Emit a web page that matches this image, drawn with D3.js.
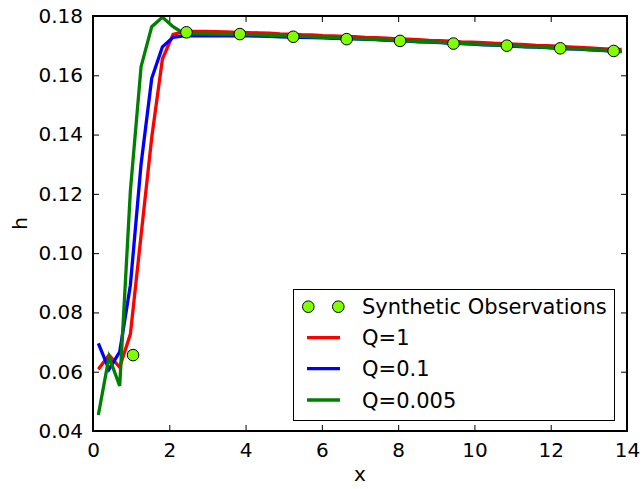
<!DOCTYPE html>
<html><head><meta charset="utf-8">
<script src="https://cdn.jsdelivr.net/npm/d3@7/dist/d3.min.js"></script>
<style>body{margin:0;background:#fff}svg{display:block}text{font-family:"DejaVu Sans",sans-serif}</style>
</head><body>
<svg id="c" width="643" height="489"></svg>
<script>
const xGrid = [0.14,0.42,0.70,0.98,1.26,1.54,1.82,2.10,2.38,2.66,2.94,3.22,3.50,3.78,4.06,4.34,4.62,4.90,5.18,5.46,5.74,6.02,6.30,6.58,6.86,7.14,7.42,7.70,7.98,8.26,8.54,8.82,9.10,9.38,9.66,9.94,10.22,10.50,10.78,11.06,11.34,11.62,11.90,12.18,12.46,12.74,13.02,13.30,13.58,13.86];
const hQ1 = [0.0608,0.0656,0.0615,0.0727,0.1060,0.1390,0.1655,0.1738,0.1747,0.1748,0.1748,0.1747,0.1746,0.1745,0.1744,0.1743,0.1742,0.1740,0.1739,0.1737,0.1736,0.1734,0.1733,0.1731,0.1730,0.1728,0.1727,0.1725,0.1723,0.1722,0.1720,0.1718,0.1717,0.1715,0.1713,0.1712,0.1710,0.1708,0.1707,0.1705,0.1703,0.1701,0.1700,0.1698,0.1696,0.1694,0.1692,0.1690,0.1688,0.1687];
const hQ01 = [0.0696,0.0608,0.0667,0.0892,0.1300,0.1590,0.1696,0.1728,0.1733,0.1734,0.1733,0.1733,0.1733,0.1733,0.1733,0.1732,0.1731,0.1730,0.1729,0.1728,0.1727,0.1726,0.1725,0.1724,0.1723,0.1721,0.1720,0.1718,0.1717,0.1715,0.1713,0.1712,0.1710,0.1708,0.1707,0.1705,0.1703,0.1702,0.1700,0.1698,0.1696,0.1695,0.1693,0.1691,0.1689,0.1688,0.1686,0.1684,0.1682,0.1680];
const hQ0005 = [0.0454,0.0650,0.0552,0.1210,0.1629,0.1764,0.1796,0.1764,0.1741,0.1740,0.1740,0.1739,0.1739,0.1738,0.1737,0.1736,0.1735,0.1734,0.1732,0.1731,0.1730,0.1728,0.1727,0.1725,0.1724,0.1722,0.1721,0.1719,0.1718,0.1716,0.1714,0.1713,0.1711,0.1709,0.1708,0.1706,0.1704,0.1703,0.1701,0.1699,0.1697,0.1696,0.1694,0.1692,0.1690,0.1689,0.1687,0.1685,0.1683,0.1680];
const obsX = [1.05,2.45,3.85,5.25,6.65,8.05,9.45,10.85,12.25,13.65];
const obsH = [0.0656,0.1745,0.1739,0.1730,0.1722,0.1716,0.1707,0.1700,0.1691,0.1682];
const xTicks = [0,2,4,6,8,10,12,14];
const yTicks = [0.04,0.06,0.08,0.10,0.12,0.14,0.16,0.18];
const seriesNames = ["Q=1","Q=0.1","Q=0.005"];
const seriesColors = ["#ff0000","#0000ff","#008000"];
const obsName = "Synthetic Observations";

const svg = d3.select("#c");
const L=93,R=627,T=16,B=431;
const x = d3.scaleLinear().domain([0,14]).range([L,R]);
const y = d3.scaleLinear().domain([0.04,0.18]).range([B,T]);
const fs = 20, lfs = 21;

// ticks (inward, all sides)
const xa = d3.axisBottom(x).tickValues(xTicks).tickFormat(d3.format("d")).tickSize(-6).tickPadding(10);
const ya = d3.axisLeft(y).tickValues(yTicks).tickFormat(d3.format(".2f")).tickSize(-6).tickPadding(10);
const gx = svg.append("g").attr("transform",`translate(0,${B})`).call(xa);
const gy = svg.append("g").attr("transform",`translate(${L},0)`).call(ya);
const gxt = svg.append("g").attr("transform",`translate(0,${T})`).call(d3.axisTop(x).tickValues(xTicks).tickFormat("").tickSize(-6));
const gyr = svg.append("g").attr("transform",`translate(${R},0)`).call(d3.axisRight(y).tickValues(yTicks).tickFormat("").tickSize(-6));
[gx,gy,gxt,gyr].forEach(g=>{g.select(".domain").remove();g.selectAll("line").attr("stroke","#000").attr("stroke-width",1);g.selectAll("text").attr("font-size",fs).attr("font-family","DejaVu Sans").attr("fill","#000");});
gx.selectAll("text").attr("dy","0.8em");

const line = d3.line().x((d,i)=>x(xGrid[i])).y(d=>y(d));
[hQ1,hQ01,hQ0005].forEach((s,k)=>{
  svg.append("path").datum(s).attr("d",line).attr("fill","none").attr("stroke",seriesColors[k]).attr("stroke-width",3.3).attr("stroke-linejoin","miter");
});
svg.append("g").selectAll("circle").data(obsX).join("circle")
  .attr("cx",d=>x(d)).attr("cy",(d,i)=>y(obsH[i])).attr("r",5.8)
  .attr("fill","#7fff00").attr("stroke","#000").attr("stroke-width",1);

// frame
svg.append("rect").attr("x",L).attr("y",T).attr("width",R-L).attr("height",B-T).attr("fill","none").attr("stroke","#000").attr("stroke-width",2);

// labels
svg.append("text").attr("x",(L+R)/2).attr("y",481).attr("text-anchor","middle").attr("font-size",fs).text("x");
svg.append("text").attr("transform",`translate(27,${(T+B)/2}) rotate(-90)`).attr("text-anchor","middle").attr("font-size",fs).text("h");

// legend
const lg = svg.append("g");
lg.append("rect").attr("x",293.5).attr("y",289.5).attr("width",321).attr("height",131).attr("fill","#fff").attr("stroke","#000").attr("stroke-width",1);
const rows=[306.7,337.7,368.7,400];
[308.3,338.3].forEach(cx=>lg.append("circle").attr("cx",cx).attr("cy",rows[0]).attr("r",5.8).attr("fill","#7fff00").attr("stroke","#000").attr("stroke-width",1));
lg.append("text").attr("x",362).attr("y",rows[0]).attr("dy","0.36em").attr("font-size",lfs).text(obsName);
seriesNames.forEach((n,k)=>{
  lg.append("line").attr("x1",307).attr("x2",340).attr("y1",rows[k+1]).attr("y2",rows[k+1]).attr("stroke",seriesColors[k]).attr("stroke-width",3.3);
  lg.append("text").attr("x",362).attr("y",rows[k+1]).attr("dy","0.36em").attr("font-size",lfs).text(n);
});
</script>
</body></html>
